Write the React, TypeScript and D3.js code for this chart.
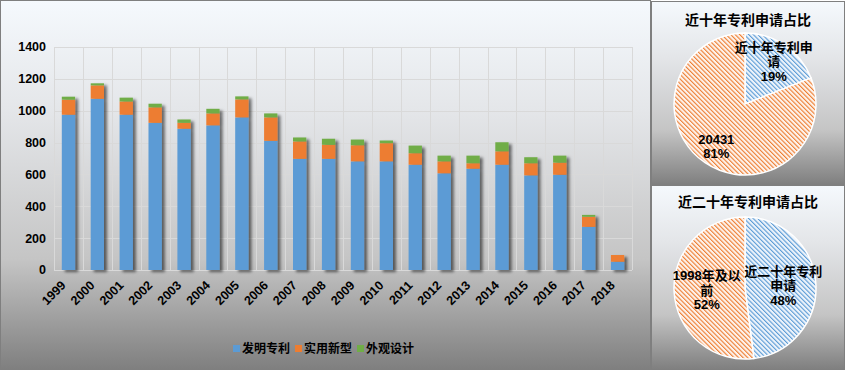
import { useEffect, useRef } from 'react';
import * as d3 from 'd3';

const years = ['1999', '2000', '2001', '2002', '2003', '2004', '2005', '2006', '2007', '2008',
  '2009', '2010', '2011', '2012', '2013', '2014', '2015', '2016', '2017', '2018'];
const invention = [975, 1075, 975, 924, 887, 908, 958, 811, 698, 698, 682, 682, 661, 607, 636, 661, 594, 598, 271, 52];
const utility = [94, 84, 83, 97, 37, 75, 113, 147, 109, 88, 101, 114, 72, 75, 34, 84, 76, 76, 63, 42];
const design = [19, 13, 24, 23, 21, 29, 19, 25, 25, 38, 36, 17, 48, 36, 48, 57, 38, 44, 12, 0];
const seriesNames = ['发明专利', '实用新型', '外观设计'];
const seriesColors = ['#5b9bd5', '#ed7d31', '#70ad47'];
const yTicks = [0, 200, 400, 600, 800, 1000, 1200, 1400];

const pieTopTitle = '近十年专利申请占比';
const pieTopValues = [19, 81];
const pieTopLabels = [['近十年专利申', '请', '19%'], ['20431', '81%']];
const pieBottomTitle = '近二十年专利申请占比';
const pieBottomValues = [48, 52];
const pieBottomLabels = [['近二十年专利', '申请', '48%'], ['1998年及以', '前', '52%']];

const FONT = '"Liberation Sans", "Noto Sans CJK SC", sans-serif';

const App = () => {
  const ref = useRef<SVGSVGElement>(null);

  useEffect(() => {
    if (!ref.current) return;
    const svg = d3.select(ref.current);
    svg.selectAll('*').remove();
    const defs = svg.append('defs');

    const grad = defs.append('linearGradient').attr('id', 'bg').attr('x1', 0).attr('y1', 0).attr('x2', 0).attr('y2', 1);
    [[0, '#f5f9fd'], [0.3, '#e4e6e9'], [0.7, '#c5c5c5'], [1, '#7f7f7f']].forEach(([o, c]) =>
      grad.append('stop').attr('offset', o as number).attr('stop-color', c as string));

    const shadow = defs.append('filter').attr('id', 'shadow')
      .attr('x', '-20%').attr('y', '-5%').attr('width', '160%').attr('height', '115%');
    shadow.append('feDropShadow').attr('dx', 3).attr('dy', 2).attr('stdDeviation', 1.4)
      .attr('flood-color', '#000').attr('flood-opacity', 0.55);

    // hatch patterns for the pies
    const hatch = (id: string, color: string, bg: string) => {
      const p = defs.append('pattern').attr('id', id).attr('patternUnits', 'userSpaceOnUse')
        .attr('width', 3.2).attr('height', 3.2).attr('patternTransform', 'rotate(-45)');
      p.append('rect').attr('width', 3.2).attr('height', 3.2).attr('fill', bg);
      p.append('rect').attr('width', 1.1).attr('height', 3.2).attr('fill', color);
    };
    hatch('hatch0', '#5b9bd5', '#eef4fb');
    hatch('hatch1', '#ed7d31', '#fdf3ec');

    // panels
    svg.append('rect').attr('x', 0.5).attr('y', 0.5).attr('width', 650).attr('height', 369)
      .attr('fill', 'url(#bg)').attr('stroke', '#7f7f7f');
    svg.append('rect').attr('x', 651.5).attr('y', 1.5).attr('width', 193).attr('height', 183)
      .attr('fill', 'url(#bg)').attr('stroke', '#7f7f7f');
    svg.append('rect').attr('x', 651.5).attr('y', 185.5).attr('width', 193).attr('height', 184)
      .attr('fill', 'url(#bg)').attr('stroke', '#7f7f7f');

    // bar chart
    const left = 54, right = 632, top = 47, bottom = 270;
    const x = d3.scaleBand().domain(years).range([left, right]).paddingInner(0.54).paddingOuter(0.27);
    const y = d3.scaleLinear().domain([0, 1400]).range([bottom, top]);
    const step = x.step();

    const grid = svg.append('g').attr('stroke', '#d9d9d9').attr('stroke-width', 1);
    yTicks.forEach(t => grid.append('line').attr('x1', left).attr('x2', right)
      .attr('y1', Math.round(y(t)) + 0.5).attr('y2', Math.round(y(t)) + 0.5));
    d3.range(years.length + 1).forEach(i => grid.append('line')
      .attr('x1', Math.round(left + i * step) + 0.5).attr('x2', Math.round(left + i * step) + 0.5)
      .attr('y1', top).attr('y2', bottom));

    svg.append('g').selectAll('text').data(yTicks).enter().append('text')
      .attr('x', 46).attr('y', d => y(d)).attr('dy', '0.35em').attr('text-anchor', 'end')
      .attr('font-family', FONT).attr('font-weight', 'bold').attr('font-size', 12.5).attr('fill', '#000')
      .text(d => d);

    const table = years.map((yr, i) => ({ year: yr, a: invention[i], b: utility[i], c: design[i] }));
    const stack = d3.stack<any>().keys(['a', 'b', 'c'])(table);
    const bars = svg.append('g').attr('filter', 'url(#shadow)');
    stack.forEach((layer, k) => {
      bars.append('g').attr('fill', seriesColors[k]).selectAll('rect').data(layer).enter().append('rect')
        .attr('x', d => x(d.data.year)!).attr('width', x.bandwidth())
        .attr('y', d => y(d[1])).attr('height', d => y(d[0]) - y(d[1]));
    });

    svg.append('g').selectAll('text').data(years).enter().append('text')
      .attr('transform', d => `translate(${x(d)! + x.bandwidth() / 2 - 5},${bottom + 13}) rotate(-45)`)
      .attr('dy', '0.35em').attr('text-anchor', 'end')
      .attr('font-family', FONT).attr('font-weight', 'bold').attr('font-size', 12.5).attr('fill', '#000')
      .text(d => d);

    // legend
    const legW = [62, 62, 60];
    const legTotal = d3.sum(legW);
    let lx = 325 - legTotal / 2;
    seriesNames.forEach((name, i) => {
      svg.append('rect').attr('x', lx).attr('y', 345).attr('width', 7).attr('height', 7).attr('fill', seriesColors[i]);
      svg.append('text').attr('x', lx + 9).attr('y', 349).attr('dy', '0.35em')
        .attr('font-family', FONT).attr('font-weight', 'bold').attr('font-size', 12).attr('fill', '#000')
        .text(name);
      lx += legW[i];
    });

    // pies
    const drawPie = (cy: number, titleY: number, title: string, values: number[], labels: string[][], lr: number) => {
      const cx = 745, r = 71;
      svg.append('text').attr('x', 748).attr('y', titleY).attr('dy', '0.35em').attr('text-anchor', 'middle')
        .attr('font-family', FONT).attr('font-weight', 'bold').attr('font-size', 14).attr('fill', '#000')
        .text(title);
      const arcs = d3.pie<number>().sort(null)(values);
      const arc = d3.arc<d3.PieArcDatum<number>>().innerRadius(0).outerRadius(r);
      const labelArc = d3.arc<d3.PieArcDatum<number>>().innerRadius(r * lr).outerRadius(r * lr);
      const g = svg.append('g').attr('transform', `translate(${cx},${cy})`);
      g.selectAll('path').data(arcs).enter().append('path')
        .attr('d', arc).attr('fill', (_, i) => `url(#hatch${i})`)
        .attr('stroke', '#fff').attr('stroke-width', 1.5);
      arcs.forEach((a, i) => {
        const [px, py] = labelArc.centroid(a);
        const lines = labels[i];
        const lh = 14.5;
        const t = g.append('text').attr('text-anchor', 'middle')
          .attr('font-family', FONT).attr('font-weight', 'bold').attr('font-size', 13).attr('fill', '#000');
        lines.forEach((ln, j) => t.append('tspan').attr('x', px)
          .attr('y', py + (j - (lines.length - 1) / 2) * lh).attr('dy', '0.35em').text(ln));
      });
    };
    drawPie(104, 20, pieTopTitle, pieTopValues, pieTopLabels, 0.72);
    drawPie(288, 202, pieBottomTitle, pieBottomValues, pieBottomLabels, 0.54);
  }, []);

  return (
    <svg ref={ref} width={845} height={370}
      style={{ position: 'absolute', left: 0, top: 0, display: 'block' }} />
  );
};

export default App;
